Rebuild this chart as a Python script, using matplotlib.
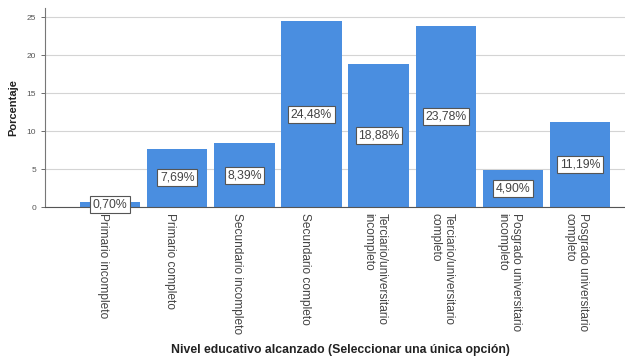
import matplotlib
matplotlib.use('Agg')
import matplotlib.pyplot as plt
from matplotlib.transforms import ScaledTranslation

plt.rcParams['font.family'] = ['Liberation Sans', 'DejaVu Sans']

categories = [
    'Primario incompleto',
    'Primario completo',
    'Secundario incompleto',
    'Secundario completo',
    'Terciario/universitario\nincompleto',
    'Terciario/universitario\ncompleto',
    'Posgrado universitario\nincompleto',
    'Posgrado universitario\ncompleto',
]
percentages = [0.70, 7.69, 8.39, 24.48, 18.88, 23.78, 4.90, 11.19]
yticks = [0, 5, 10, 15, 20, 25]

fig = plt.figure(figsize=(6.25, 3.59), dpi=100)
ax = fig.add_axes([0.072, 0.423, 0.928, 0.555])

x = list(range(len(categories)))
ax.bar(x, percentages, width=0.9, color='#4a8ee0', zorder=2)

# value labels in boxes at the middle of each bar
for xi, v in zip(x, percentages):
    ax.text(xi, v / 2, f'{v:.2f}%'.replace('.', ','), ha='center', va='center',
            fontsize=8.8, color='#444444', zorder=3,
            bbox=dict(boxstyle='square,pad=0.2', fc='white', ec='#555555', lw=0.8))

ax.set_xlim(-0.97, 7.67)
ax.set_ylim(0, 26.2)
ax.set_yticks(yticks)
ax.yaxis.grid(True, color='#d4d4d4', lw=0.8, zorder=0)
ax.set_axisbelow(True)

ax.set_xticks(x)
ax.set_xticklabels(categories, rotation=270, ha='center', va='top',
                   fontsize=8.6, color='#444444', linespacing=1.15)
ax.tick_params(axis='x', length=0, pad=4)
ax.tick_params(axis='y', labelsize=6, colors='#555555', length=3, width=0.6)

# rotated labels sit a little left of the bar centre, top aligned
for lab in ax.get_xticklabels():
    lab.set_multialignment('left')
    shift = -2.5 if '\n' in lab.get_text() else -5
    lab.set_transform(lab.get_transform() + ScaledTranslation(shift / 72, 0, fig.dpi_scale_trans))

for side in ['top', 'right']:
    ax.spines[side].set_visible(False)
ax.spines['left'].set_color('#777777')
ax.spines['bottom'].set_color('#555555')

ax.set_ylabel('Porcentaje', fontsize=8, fontweight='bold', color='#222222', labelpad=6)
fig.text(0.545, 0.025, 'Nivel educativo alcanzado (Seleccionar una única opción)',
         ha='center', va='center', fontsize=8.8, fontweight='bold', color='#222222')

fig.savefig('out.png', dpi=100)
